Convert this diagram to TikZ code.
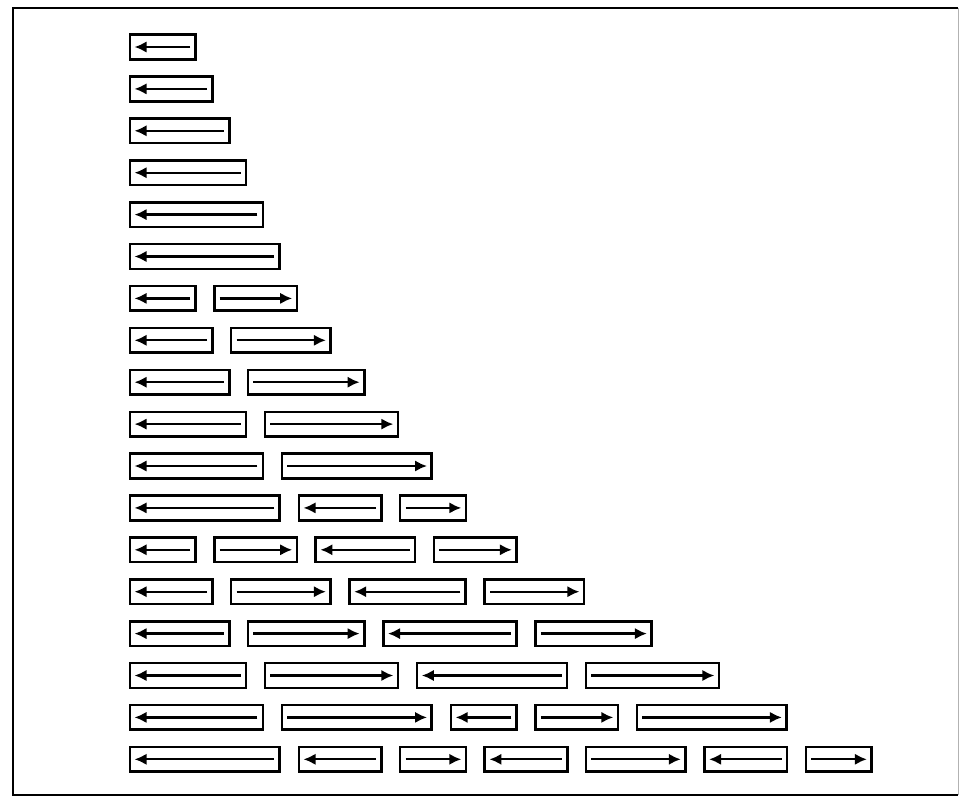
\documentclass[tikz,border=0pt]{standalone}
\usetikzlibrary{arrows.meta}
\begin{document}
\begin{tikzpicture}[x=0.75pt,y=-0.75pt,
 seg/.style={draw,line width=1.9pt,inner sep=0pt,minimum height=18.5pt,anchor=west},
 arr/.style={-{Latex[length=9pt,width=8.5pt]},line width=1.7pt}]
\useasboundingbox (0,0) rectangle (961,797);
\draw[line width=1.5pt] (958,8) -- (13,8) -- (13,795) -- (958,795);
\draw[gray!60,line width=0.6pt] (958,8) -- (958,795);
\foreach \segs [count=\r] in {{4/L},{5/L},{6/L},{7/L},{8/L},{9/L},
  {4/L,5/R},{5/L,6/R},{6/L,7/R},{7/L,8/R},{8/L,9/R},
  {9/L,5/L,4/R},{4/L,5/R,6/L,5/R},{5/L,6/R,7/L,6/R},{6/L,7/R,8/L,7/R},
  {7/L,8/R,9/L,8/R},{8/L,9/R,4/L,5/R,9/R},{9/L,5/L,4/R,5/L,6/R,5/L,4/R}}{
 \foreach \len/\dir [count=\k, remember=\nx as \px (initially 0)] in \segs {
  \pgfmathtruncatemacro\nx{\px+\len+1}
  \node[seg,minimum width=\len*12.6pt-1pt] (b\r-\k) at ({128.5+\px*16.9},{47+(\r-1)*41.9}) {};
  \if\dir R
   \draw[arr] ([xshift=5pt]b\r-\k.west) -- ([xshift=-4.5pt]b\r-\k.east);
  \else
   \draw[arr] ([xshift=-5pt]b\r-\k.east) -- ([xshift=4.5pt]b\r-\k.west);
  \fi
 }
}
\end{tikzpicture}
\end{document}
